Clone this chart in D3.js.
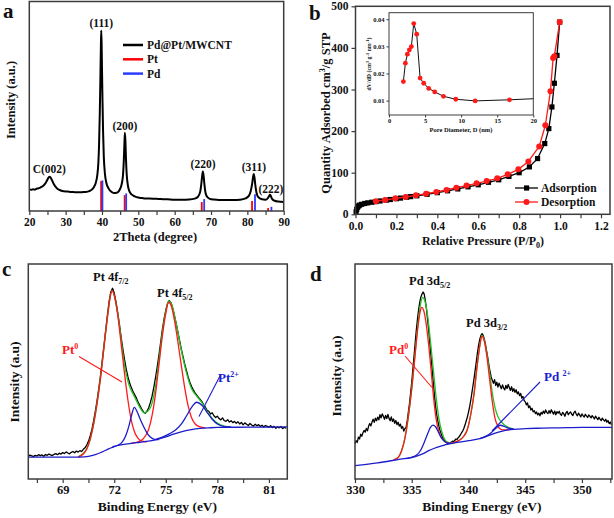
<!DOCTYPE html>
<html><head><meta charset="utf-8">
<script src="https://cdn.jsdelivr.net/npm/d3@7"></script>
<style>body{margin:0;background:#fff}svg{display:block}</style>
</head><body>
<svg id="fig" width="614" height="518"></svg>
<script>
// ---------- Panel a : XRD ----------
const xrdTheta = [20,20.5,21,21.5,22,22.5,23,23.5,24,24.5,25,25.3,25.6,25.9,26.3,26.7,27.2,27.8,28.5,29.5,30.5,31.5,32.5,33.5,34.5,35.5,36.5,37.2,37.8,38.3,38.7,39.0,39.2,39.4,39.55,39.7,39.8,39.9,40.0,40.15,40.3,40.5,40.8,41.2,41.8,42.5,43.3,44.0,44.6,45.1,45.5,45.8,46.0,46.15,46.3,46.45,46.6,46.8,47.1,47.5,48.2,49,50,51,52,54,56,58,60,62,64,65.5,66.4,67.0,67.3,67.55,67.75,67.95,68.2,68.5,69,70,72,74,76,78,79.5,80.4,80.9,81.3,81.55,81.75,81.95,82.2,82.5,83,84,85,85.6,86.0,86.2,86.45,86.8,87.5,88.5,90];
const xrdIntensity = [10.3,10.1,10.4,10.2,10.6,10.8,11.2,11.6,12.3,13.4,15,16,16.4,15.8,14.5,13,11.6,10.5,9.9,9.4,9.3,9.1,9.0,8.9,9.0,9.1,9.5,10.2,11.5,13.5,17,23,32,47,62,79,86.1,80,68,52,38,26,18,13.5,10.8,9.3,8.6,8.7,9.4,11,13.5,17.5,24,31,37.3,33,25,17.5,12.5,9.6,7.8,7,6.4,6.2,6.0,5.9,5.7,5.6,5.4,5.4,5.5,5.9,6.8,9,12.5,16.5,18.8,17,12.5,8.6,6.6,5.6,5.3,5.2,5.2,5.4,6,7.2,9.3,12.8,16,17.7,16.2,12.2,8.8,6.6,5.6,5.4,6,7.2,7.8,7.2,5.8,4.9,4.5,4.3];
const ptRefTheta = [39.76,46.24,67.45,81.29,85.71];
const ptRefI = [14.3,7.6,4.3,4.8,1.4];
const pdRefTheta = [40.12,46.66,68.12,82.10,86.62];
const pdRefI = [14.6,8.4,5.7,8.0,2.0];
const xrdPeakLabels = ["C(002)","(111)","(200)","(220)","(311)","(222)"];
const xrdPeakLabelTheta = [25.5,39.8,46.3,67.8,81.8,86.5];
const xrdPeakLabelI = [18.3,87.6,38.5,20.5,19,8.8];
const xrdLegend = ["Pd@Pt/MWCNT","Pt","Pd"];
const xrdTicks = [20,30,40,50,60,70,80,90];

// ---------- Panel b : N2 isotherm ----------
const adsP = [0.003,0.006,0.01,0.015,0.02,0.03,0.045,0.06,0.08,0.1,0.12,0.15,0.17,0.2,0.22,0.25,0.27,0.3,0.35,0.4,0.45,0.5,0.55,0.6,0.65,0.7,0.75,0.8,0.85,0.89,0.925,0.945,0.96,0.972,0.985,0.998];
const adsV = [6,12,17,20,22,24,26,27.5,29,30.5,32,34,35.5,37.5,39,41,42.5,44.5,48,52,56.5,61,66,71,77,83,91,100,114,134,170,206,258,315,382,462];
const desP = [0.1,0.145,0.195,0.245,0.295,0.345,0.395,0.445,0.493,0.543,0.592,0.641,0.693,0.744,0.796,0.845,0.898,0.928,0.953,0.966,0.972,0.998];
const desV = [31.5,34.4,38.3,41.6,45.5,49.5,53.6,58.4,64,69,74.5,80,86.5,96,108,127,163,214,296,376,380,462];
const bXTicks = [0,0.2,0.4,0.6,0.8,1.0,1.2];
const bYTicks = [0,100,200,300,400,500];
const bLegend = ["Adsorption","Desorption"];
// inset: pore size distribution
const poreD = [1.99,2.27,2.55,2.82,3.1,3.43,3.84,4.31,4.81,5.5,6.34,7.55,9.26,11.94,16.7];
const dVdD = [0.0170,0.0238,0.0271,0.0287,0.0299,0.0384,0.0345,0.0183,0.0164,0.0145,0.0132,0.0116,0.0105,0.0099,0.0103];
const poreLineEnd = [20,0.0107];
const insetXTicks = [0,5,10,15,20];
const insetYTicks = [0.01,0.02,0.03,0.04];

// ---------- Panel c : Pt 4f XPS ----------
const cScanStart = 67.0, cScanStep = 0.1;
const cRaw = [10.6,11.1,10.8,10.4,11,10.7,11.3,10.9,11.2,10.6,
 11.4,11,11.6,11.2,10.9,11.5,11.8,11.3,12,11.6,
 12.3,11.8,12.6,12.1,11.7,12.4,12.8,12.2,13,12.5,
 13.2,12.8,13.8,14.5,15.8,17.5,20,23,27,31.5,
 36.5,42,48,55,62,69,76,82.5,87,88.7,
 86.5,82.5,77.5,72,66,60.5,55.5,51,47.5,44.5,
 42.5,40.5,39,37.5,35.5,34,32.5,31.2,30.6,31.5,
 33,35.5,38.5,42.5,47,52,57.5,63.5,69.5,74.5,
 78.5,81.5,83,82,79.5,76,72.5,68.5,64.5,60.5,
 57,53.5,50.5,47.5,45,43,41.5,40,39,38,
 37,36,34.5,33.5,32,31.5,30.2,30.8,29.4,28.6,
 29.2,28.1,27.5,28.4,27.2,26.8,27.6,26.5,27.1,26.2,
 26.8,25.9,26.6,25.6,26.3,25.2,26.1,25.5,24.9,25.8,
 25.1,24.6,25.5,24.8,25.3,24.4,25,24.2,24.9,24.5,
 24.1,24.8,23.9,24.5,23.6,24.3,23.8,24.4,23.5,24,
 23.6];
const cBgE = [67,70.0,70.5,70.9,71.3,71.7,72.0,72.4,72.9,73.5,74.0,74.5,75.0,75.5,76.0,76.5,77.0,77.5,78,80,82.07];
const cBgI = [10.2,10.2,10.5,11.3,12.6,14.1,15.1,15.9,16.5,17.1,17.6,18.4,19.6,21,22.2,23,23.5,23.8,24,24.1,24.2];
const cPt0aE = [69.9,70.2,70.4,70.6,70.8,71.0,71.2,71.4,71.6,71.75,71.87,72.0,72.2,72.4,72.6,72.8,73.0,73.2,73.4,73.6,73.9];
const cPt0aI = [10.3,11.6,14,18.5,25.5,35,47,61,75,84,87.6,85.5,76.5,63,49,36.5,27,21.5,18.8,17.6,17.3];
const cPt0bE = [73.0,73.4,73.7,74.0,74.2,74.4,74.6,74.8,75.0,75.16,75.32,75.5,75.7,75.9,76.1,76.3,76.5,76.7,77.0,77.3];
const cPt0bI = [16.7,17.3,18.8,23,29.5,39.5,53,66.5,77,82.2,80.5,74,64,53,42.5,34,28.5,25.7,24.2,23.8];
const cPt2aE = [71.9,72.2,72.45,72.65,72.85,73.02,73.17,73.32,73.5,73.7,73.9,74.1,74.35,74.6];
const cPt2aI = [15,15.7,17,19.8,24.5,30,33.3,31.5,28,24.5,21.5,19.5,18.4,18.3];
const cPt2bE = [74.4,74.8,75.2,75.6,75.9,76.2,76.5,76.8,77.1,77.4,77.7,78.0,78.4,78.8];
const cPt2bI = [18.3,19.5,21,23,25.5,29.3,33.3,35.7,34.3,31,27.8,25.6,24.4,24.1];
const cFitE = [69.9,70.4,70.8,71.2,71.6,71.87,72.2,72.6,72.85,73.1,73.35,73.55,73.75,73.95,74.15,74.4,74.6,74.8,75.0,75.16,75.35,75.6,75.9,76.2,76.5,76.8,77.1,77.4,77.7,78.0,78.4,78.8];
const cFitI = [10.3,14,25.5,47,75,87.6,77,53,44,39.5,35.5,32.5,30.8,31.5,34,43,55,68,78,82.8,81,72.5,60,49.5,42,38.5,35.5,31.5,28.2,26,24.6,24.2];
const cTicks = [69,72,75,78,81];
const cMinor = [67.5,70.5,73.5,76.5,79.5];

// ---------- Panel d : Pd 3d XPS ----------
const dScanStart = 330.0, dScanStep = 0.1;
const dRaw = [16.5,17.8,17,19.5,18.6,20.8,19.9,21.5,22.6,21.8,
 23.5,22.4,24.6,25.8,24.7,26.5,27.8,26.4,28.3,27.1,
 28.8,27.5,29.9,28.4,30.3,29.2,27.8,29.6,28.1,30,
 28.2,27.1,28.9,26.8,27.9,25.9,27.2,25.3,26.4,24.6,
 25.5,23.6,24.4,22.3,23.5,24,27,31,35,40,
 45,51,57,63,69,74,78.5,82,84.5,86,
 87,86,83,79,74,69,63,57,51,45,
 39,34,30,27,24.5,22.5,21,19.5,18.5,17.8,
 17.2,16.8,16.5,16.6,16.9,17.2,17.6,17.4,18,18.6,
 18.4,19.3,19.8,20.6,21.6,22.4,23.6,25.2,27,28.8,
 31,33.5,36.5,40,43.5,47,51,55,59,62.5,
 65,66.8,67.6,66.8,65,62.5,59.5,56.5,53,50,
 47.5,46,44.5,46.2,43.5,45,42.8,44.6,43.2,42,
 43.8,42.3,41.5,43.5,42.1,44,42.6,41.2,42.9,40.8,
 42,40.3,41.5,39.6,40.5,38.8,39.8,37.6,38.4,36.5,
 36,34.5,35.4,33.2,34,32.1,32.9,31.2,31.8,30.4,
 31.2,29.8,30.6,29.4,31,30.2,31.6,30.5,32.1,31,
 30.4,31.8,30.6,32.2,31.1,30.2,31.6,29.9,31.3,30.6,
 31.5,30.1,29.6,31,30.3,29.2,30.8,31.4,29.9,30.7,
 31.2,30.1,29.5,30.9,31.5,30.2,29.4,30.6,29.8,28.9,
 30.3,29.5,28.8,30.1,29.4,28.6,29.8,29.2,28.4,29.5,
 28.8,27.9,29.2,28.4,27.6,28.7,27.8,27.2,28.3,27.5,
 26.9,27.8,26.4,27.2,25.8,26.5,25.2];
const dBgE = [330,332,334,335,335.5,336,336.5,337,337.5,338,339,340,341,341.5,342,342.5,343,343.5,344,345,346,348,350,352.65];
const dBgI = [6.2,7.5,9.2,10,10.8,11.8,13.2,14.3,15.2,16,17,17.8,18.8,19.6,20.6,21.6,22.3,22.8,23.1,23.4,23.6,23.8,24,24];
const dPd0aE = [333.4,333.8,334.1,334.4,334.7,335.0,335.3,335.55,335.75,335.88,336.05,336.25,336.5,336.75,337.0,337.25,337.5,337.8,338.1,338.4];
const dPd0aI = [8.9,10,13,19,29,42,58,71,78,79.8,78.5,73,62,48,34,25,20.5,18,16.8,16.6];
const dPd0bE = [338.4,338.8,339.2,339.6,339.9,340.2,340.5,340.75,341.0,341.18,341.35,341.6,341.85,342.1,342.35,342.6,342.9,343.3,343.6];
const dPd0bI = [16.5,17.2,18,20,23,30,40,52,62,66.5,65,58,47,36,28,24.5,23,22.8,23];
const dPd2aE = [335.0,335.4,335.8,336.1,336.4,336.65,336.88,337.1,337.35,337.6,337.9,338.2,338.5];
const dPd2aI = [10.2,11,13.5,17,21,24,25.1,24.3,21.8,19.2,17.4,16.7,16.6];
const dPd2bE = [341.0,341.5,342.0,342.4,342.8,343.2,343.6,344.0];
const dPd2bI = [18.8,19.8,21.5,23.5,25,24.3,23.5,23.2];
const dFitE = [333.4,333.8,334.1,334.4,334.7,335.0,335.3,335.55,335.75,335.95,336.15,336.4,336.65,336.9,337.15,337.4,337.65,337.9,338.2,338.5,338.8,339.2,339.6,339.9,340.2,340.5,340.75,341.0,341.18,341.35,341.6,341.85,342.1,342.35,342.6,342.9,343.2,343.6,344.0];
const dFitI = [8.9,10,13,19,29,42,58.5,72,80.5,84.5,83,76,64,51,38,28,22,18.5,17,16.6,17.2,18,20,23,30,40,52,62,66.8,65.5,59,50,40,33,29,26.5,25,23.8,23.2];
const dTicks = [330,335,340,345,350];
const dMinor = [332.5,337.5,342.5,347.5,352.5];

// ================= drawing =================
const svg = d3.select('#fig');
const SERIF = "'Liberation Serif','Times New Roman',serif";
const FRAME = '#3c3c3c';
const RED = '#ff1a1a', BLUE = '#1c1ccc', GREEN = '#22c322';

function frame(x0,y0,x1,y1,w){
  svg.append('rect').attr('x',x0).attr('y',y0).attr('width',x1-x0).attr('height',y1-y0)
    .attr('fill','none').attr('stroke',FRAME).attr('stroke-width',w||1.5);
}
function styleAxis(g,fs,lw){
  g.select('.domain').remove();
  g.selectAll('line').attr('stroke',FRAME).attr('stroke-width',lw||1.2);
  g.selectAll('text').attr('font-family',SERIF).attr('font-weight','bold').attr('font-size',fs).attr('fill','#111');
}
function xAxis(scale,y,ticks,minor,fmt,fs,pad,size,lw){
  const g = svg.append('g').attr('transform',`translate(0,${y})`)
    .call(d3.axisBottom(scale).tickValues(ticks).tickSize(size||4).tickPadding(pad).tickFormat(fmt));
  styleAxis(g,fs,lw);
  if(minor){
    const m = svg.append('g').attr('transform',`translate(0,${y})`)
      .call(d3.axisBottom(scale).tickValues(minor).tickSize(size||4).tickFormat(''));
    styleAxis(m,fs,lw);
  }
}
function yAxis(scale,x,ticks,fmt,fs,pad,size,lw){
  const g = svg.append('g').attr('transform',`translate(${x},0)`)
    .call(d3.axisLeft(scale).tickValues(ticks).tickSize(size||4).tickPadding(pad).tickFormat(fmt));
  styleAxis(g,fs,lw);
}
// rich text: parts [{t, s}] s = vertical shift (px, + down), f = font size
function rich(x,y,parts,o){
  o = o||{};
  const t = svg.append('text').attr('x',x).attr('y',y)
    .attr('font-family',SERIF).attr('font-weight','bold')
    .attr('font-size',o.fs||12).attr('fill',o.color||'#111')
    .attr('text-anchor',o.anchor||'start');
  if(o.rot) t.attr('transform',`rotate(${o.rot},${x},${y})`);
  let cur = 0;
  parts.forEach(p=>{
    const s = p.s||0;
    const ts = t.append('tspan').text(p.t).attr('dy',s-cur);
    if(p.f) ts.attr('font-size',p.f);
    cur = s;
  });
  return t;
}
function path(xs,ys,sx,sy,color,w,curve){
  svg.append('path').datum(d3.zip(xs,ys))
    .attr('d',d3.line().x(d=>sx(d[0])).y(d=>sy(d[1])).curve(curve||d3.curveLinear))
    .attr('fill','none').attr('stroke',color).attr('stroke-width',w).attr('stroke-linejoin','round');
}

// ---------- Panel a ----------
{
  const sx = d3.scaleLinear().domain([20,90]).range([29.3,283.7]);
  const sy = d3.scaleLinear().domain([0,100]).range([211,1.5]);
  ptRefTheta.forEach((t,i)=>{
    svg.append('line').attr('x1',sx(t)).attr('x2',sx(t)).attr('y1',sy(0)).attr('y2',sy(ptRefI[i]))
      .attr('stroke','#ff0000').attr('stroke-width',1.8);
  });
  pdRefTheta.forEach((t,i)=>{
    svg.append('line').attr('x1',sx(t)).attr('x2',sx(t)).attr('y1',sy(0)).attr('y2',sy(pdRefI[i]))
      .attr('stroke','#2b3cff').attr('stroke-width',1.8);
  });
  path(xrdTheta,xrdIntensity,sx,sy,'#000',2,d3.curveMonotoneX);
  frame(29.3,1.5,283.7,211);
  xAxis(sx,211,xrdTicks,[25,35,45,55,65,75,85],d3.format('d'),11.5,3);
  xrdPeakLabels.forEach((l,i)=>{
    rich(sx(xrdPeakLabelTheta[i]),sy(xrdPeakLabelI[i]),[{t:l}],{anchor:'middle',fs:11.5});
  });
  const legCol = ['#000','#ff0000','#2b3cff'];
  xrdLegend.forEach((l,i)=>{
    const y = 45+i*14.3;
    svg.append('line').attr('x1',123).attr('x2',143).attr('y1',y).attr('y2',y).attr('stroke',legCol[i]).attr('stroke-width',2.5);
    rich(147,y+4,[{t:l}],{fs:11.5});
  });
  rich(155,241,[{t:'2Theta (degree)'}],{anchor:'middle',fs:12.5});
  rich(14.5,100,[{t:'Intensity (a.u.)'}],{anchor:'middle',fs:12.5,rot:-90});
  rich(3,18,[{t:'a'}],{fs:21});
}

// ---------- Panel b ----------
{
  const sx = d3.scaleLinear().domain([0,1.244]).range([355.5,610]);
  const sy = d3.scaleLinear().domain([0,500]).range([214.3,6.3]);
  path(adsP,adsV,sx,sy,'#000',1.3);
  adsP.forEach((p,i)=>{
    svg.append('rect').attr('x',sx(p)-2.6).attr('y',sy(adsV[i])-2.6).attr('width',5.2).attr('height',5.2).attr('fill','#000');
  });
  path(desP,desV,sx,sy,RED,1.3);
  desP.forEach((p,i)=>{
    svg.append('circle').attr('cx',sx(p)).attr('cy',sy(desV[i])).attr('r',3).attr('fill',RED);
  });
  frame(355.5,6.3,610,214.3);
  xAxis(sx,214.3,bXTicks,[0.1,0.3,0.5,0.7,0.9,1.1],d3.format('.1f'),11.5,4);
  yAxis(sy,355.5,bYTicks,d3.format('d'),11.5,3);
  [['#000','rect'],[RED,'circle']].forEach((c,i)=>{
    const y = 188+i*14;
    svg.append('line').attr('x1',515).attr('x2',538).attr('y1',y).attr('y2',y).attr('stroke',c[0]).attr('stroke-width',1.3);
    if(c[1]==='rect') svg.append('rect').attr('x',524).attr('y',y-2.6).attr('width',5.2).attr('height',5.2).attr('fill','#000');
    else svg.append('circle').attr('cx',526.5).attr('cy',y).attr('r',3).attr('fill',RED);
    rich(541,y+4,[{t:bLegend[i]}],{fs:11.5});
  });
  rich(483,245,[{t:'Relative Pressure (P/P'},{t:'0',s:3,f:8},{t:')',s:0}],{anchor:'middle',fs:12});
  rich(330,113,[{t:'Quantity Adsorbed cm'},{t:'3',s:-5,f:8},{t:'/g STP',s:0}],{anchor:'middle',fs:12.5,rot:-90});
  rich(309,20,[{t:'b'}],{fs:21});

  // inset
  const ix = d3.scaleLinear().domain([0,20]).range([389,533.3]);
  const iy = d3.scaleLinear().domain([0.0047,0.0424]).range([115,12.7]);
  svg.append('rect').attr('x',389).attr('y',12.7).attr('width',533.3-389).attr('height',115-12.7).attr('fill','#fff').attr('stroke','none');
  path(poreD.concat([poreLineEnd[0]]),dVdD.concat([poreLineEnd[1]]),ix,iy,'#111',1);
  poreD.forEach((d,i)=>{
    svg.append('circle').attr('cx',ix(d)).attr('cy',iy(dVdD[i])).attr('r',2.4).attr('fill',RED);
  });
  frame(389,12.7,533.3,115,1);
  xAxis(ix,115,insetXTicks,null,d3.format('d'),6.5,1,2.5,1);
  yAxis(iy,389,insetYTicks,d3.format('.2f'),6.5,2,2.5,1);
  rich(461,131.5,[{t:'Pore Diameter, D (nm)'}],{anchor:'middle',fs:6.5});
  rich(371,64,[{t:'dV/dD (cm'},{t:'3',s:-2.5,f:4.5},{t:' g',s:0},{t:'-1',s:-2.5,f:4.5},{t:' nm',s:0},{t:'-1',s:-2.5,f:4.5},{t:')',s:0}],{anchor:'middle',fs:5.8,rot:-90});
}

// ---------- Panel c ----------
{
  const sx = d3.scaleLinear().domain([67,82.07]).range([28.3,287.3]);
  const sy = d3.scaleLinear().domain([0,100]).range([479,264]);
  const cE = cRaw.map((v,i)=>cScanStart+i*cScanStep);
  path(cE,cRaw,sx,sy,'#000',1.3);
  path(cFitE,cFitI,sx,sy,GREEN,1.3,d3.curveMonotoneX);
  path(cPt0aE,cPt0aI,sx,sy,RED,1.3,d3.curveMonotoneX);
  path(cPt0bE,cPt0bI,sx,sy,RED,1.3,d3.curveMonotoneX);
  path(cPt2aE,cPt2aI,sx,sy,BLUE,1.3,d3.curveMonotoneX);
  path(cPt2bE,cPt2bI,sx,sy,BLUE,1.3,d3.curveMonotoneX);
  path(cBgE,cBgI,sx,sy,BLUE,1.3,d3.curveMonotoneX);
  frame(28.3,264,287.3,479);
  xAxis(sx,479,cTicks,cMinor,d3.format('d'),12.5,2);
  rich(93,281,[{t:'Pt 4f'},{t:'7/2',s:3,f:8}],{fs:12.5});
  rich(157,297,[{t:'Pt 4f'},{t:'5/2',s:3,f:8}],{fs:12.5});
  rich(62,354,[{t:'Pt'},{t:'0',s:-5,f:8}],{fs:13,color:RED});
  svg.append('line').attr('x1',79).attr('y1',356.5).attr('x2',122).attr('y2',382).attr('stroke',RED).attr('stroke-width',1.1);
  rich(218,382,[{t:'Pt'},{t:'2+',s:-5,f:8}],{fs:13,color:BLUE});
  svg.append('line').attr('x1',221).attr('y1',374).attr('x2',199).attr('y2',416.5).attr('stroke',BLUE).attr('stroke-width',1.1);
  rich(157.5,511,[{t:'Binding Energy (eV)'}],{anchor:'middle',fs:13.5});
  rich(19,382,[{t:'Intensity (a.u)'}],{anchor:'middle',fs:13.5,rot:-90});
  rich(2,276,[{t:'c'}],{fs:21});
}

// ---------- Panel d ----------
{
  const sx = d3.scaleLinear().domain([330,352.65]).range([355,612]);
  const sy = d3.scaleLinear().domain([0,100]).range([479,264]);
  const dE = dRaw.map((v,i)=>dScanStart+i*dScanStep);
  path(dE,dRaw,sx,sy,'#000',1.3);
  path(dFitE,dFitI,sx,sy,GREEN,1.3,d3.curveMonotoneX);
  path(dPd0aE,dPd0aI,sx,sy,RED,1.3,d3.curveMonotoneX);
  path(dPd0bE,dPd0bI,sx,sy,RED,1.3,d3.curveMonotoneX);
  path(dPd2aE,dPd2aI,sx,sy,BLUE,1.3,d3.curveMonotoneX);
  path(dPd2bE,dPd2bI,sx,sy,BLUE,1.3,d3.curveMonotoneX);
  path(dBgE,dBgI,sx,sy,BLUE,1.3,d3.curveMonotoneX);
  frame(355,264,612,479);
  xAxis(sx,479,dTicks,dMinor,d3.format('d'),12.5,2);
  rich(409,285,[{t:'Pd 3d'},{t:'5/2',s:3,f:8}],{fs:12.5});
  rich(466,327,[{t:'Pd 3d'},{t:'3/2',s:3,f:8}],{fs:12.5});
  rich(389,354,[{t:'Pd'},{t:'0',s:-5,f:8}],{fs:13,color:RED});
  svg.append('line').attr('x1',405).attr('y1',356).attr('x2',432).attr('y2',387.5).attr('stroke',RED).attr('stroke-width',1.1);
  rich(544,381,[{t:'Pd '},{t:'2+',s:-5,f:8}],{fs:13,color:BLUE});
  svg.append('line').attr('x1',540).attr('y1',382).attr('x2',492).attr('y2',431).attr('stroke',BLUE).attr('stroke-width',1.1);
  rich(482,511,[{t:'Binding Energy (eV)'}],{anchor:'middle',fs:13.5});
  rich(341,376,[{t:'Intensity (a.u)'}],{anchor:'middle',fs:13.5,rot:-90});
  rich(310,281,[{t:'d'}],{fs:21});
}
</script>
</body></html>
